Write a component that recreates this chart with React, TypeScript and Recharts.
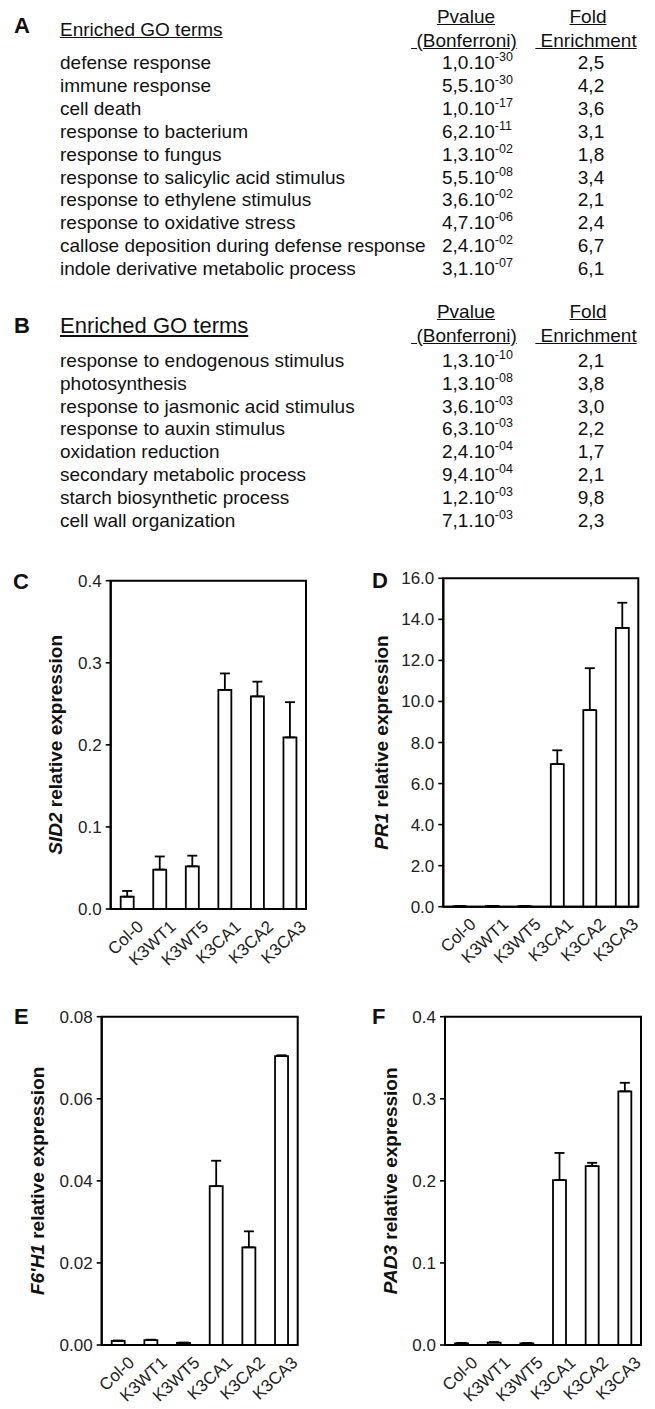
import React from "react";
import { BarChart, Bar, XAxis, YAxis, ErrorBar, ReferenceArea, Label } from "recharts";

const FONT = "'Liberation Sans', Arial, sans-serif";

// GO enrichment tables
const aTerms = [
  "defense response",
  "immune response",
  "cell death",
  "response to bacterium",
  "response to fungus",
  "response to salicylic acid stimulus",
  "response to ethylene stimulus",
  "response to oxidative stress",
  "callose deposition during defense response",
  "indole derivative metabolic process",
];
const aPvalues = ["1,0.10^-30", "5,5.10^-30", "1,0.10^-17", "6,2.10^-11", "1,3.10^-02", "5,5.10^-08", "3,6.10^-02", "4,7.10^-06", "2,4.10^-02", "3,1.10^-07"];
const aFolds = ["2,5", "4,2", "3,6", "3,1", "1,8", "3,4", "2,1", "2,4", "6,7", "6,1"];

const bTerms = [
  "response to endogenous stimulus",
  "photosynthesis",
  "response to jasmonic acid stimulus",
  "response to auxin stimulus",
  "oxidation reduction",
  "secondary metabolic process",
  "starch biosynthetic process",
  "cell wall organization",
];
const bPvalues = ["1,3.10^-10", "1,3.10^-08", "3,6.10^-03", "6,3.10^-03", "2,4.10^-04", "9,4.10^-04", "1,2.10^-03", "7,1.10^-03"];
const bFolds = ["2,1", "3,8", "3,0", "2,2", "1,7", "2,1", "9,8", "2,3"];

// qPCR bar charts
const lines = ["Col-0", "K3WT1", "K3WT5", "K3CA1", "K3CA2", "K3CA3"];

const sid2Mean = [0.015, 0.048, 0.052, 0.267, 0.259, 0.209];
const sid2Err = [0.007, 0.016, 0.013, 0.02, 0.018, 0.043];
const sid2Ticks = [0, 0.1, 0.2, 0.3, 0.4];

const pr1Mean = [0.02, 0.03, 0.02, 6.95, 9.58, 13.58];
const pr1Err = [0.01, 0.01, 0.01, 0.67, 2.04, 1.23];
const pr1Ticks = [0, 2, 4, 6, 8, 10, 12, 14, 16];

const f6h1Mean = [0.001, 0.0012, 0.0005, 0.0387, 0.0238, 0.0704];
const f6h1Err = [0.0001, 0.0001, 0.0001, 0.0062, 0.0039, 0.0002];
const f6h1Ticks = [0, 0.02, 0.04, 0.06, 0.08];

const pad3Mean = [0.002, 0.003, 0.002, 0.201, 0.218, 0.309];
const pad3Err = [0.0005, 0.0005, 0.0005, 0.033, 0.004, 0.0105];
const pad3Ticks = [0, 0.1, 0.2, 0.3, 0.4];

const Txt = ({ x, cy, size = 19, bold = false, underline = false, center = false, children }: any) => (
  <div
    style={{
      position: "absolute",
      left: center ? x - 80 : x,
      width: center ? 160 : undefined,
      textAlign: center ? "center" : "left",
      top: cy - size * 0.63,
      fontSize: size,
      lineHeight: `${size * 1.15}px`,
      fontWeight: bold ? "bold" : "normal",
      textDecoration: underline ? "underline" : "none",
      whiteSpace: "pre",
      color: "#111",
    }}
  >
    {children}
  </div>
);

const Pval = ({ value }: { value: string }) => {
  const [m, e] = value.split("^");
  return (
    <>
      {m}
      <span style={{ fontSize: 12.5, position: "relative", top: -8 }}>{e}</span>
    </>
  );
};

const GoTable = ({ letter, terms, pvalues, folds, letterY, titleY, titleSize, headY, rowY }: any) => (
  <>
    <Txt x={14} cy={letterY} size={22} bold>
      {letter}
    </Txt>
    <Txt x={60} cy={titleY} size={titleSize} underline>
      Enriched GO terms
    </Txt>
    <Txt x={466} cy={headY} underline center>
      Pvalue
    </Txt>
    <Txt x={464} cy={headY + 23.4} underline center>
      {"\u00a0(Bonferroni)"}
    </Txt>
    <Txt x={588} cy={headY} underline center>
      Fold
    </Txt>
    <Txt x={586} cy={headY + 23.4} underline center>
      {"\u00a0Enrichment"}
    </Txt>
    {terms.map((t: string, i: number) => (
      <React.Fragment key={t}>
        <Txt x={60} cy={rowY + i * 22.9}>
          {t}
        </Txt>
        <Txt x={442} cy={rowY + i * 22.9}>
          <Pval value={pvalues[i]} />
        </Txt>
        <Txt x={591} cy={rowY + i * 22.9} center>
          {folds[i]}
        </Txt>
      </React.Fragment>
    ))}
  </>
);

const AngledTick = (props: any) => {
  const { x, y, payload } = props;
  return (
    <g transform={`translate(${x + 9},${y + 10}) rotate(-43)`}>
      <text textAnchor="end" dy="0.72em" fontSize={17} fill="#222" fontFamily={FONT}>
        {payload.value}
      </text>
    </g>
  );
};

const ExprChart = ({ gene, mean, err, ticks, decimals, box, plot, labelX, letter, letterX, letterY }: any) => {
  const data = lines.map((line, i) => ({ line, mean: mean[i], err: [0, err[i]] }));
  const max = ticks[ticks.length - 1];
  return (
    <>
      <div style={{ position: "absolute", left: box.left, top: box.top }}>
        <BarChart
          width={box.width}
          height={box.height}
          data={data}
          margin={{ top: plot.top - box.top, right: box.left + box.width - plot.right, left: 0, bottom: 0 }}
        >
          <XAxis
            dataKey="line"
            interval={0}
            height={box.top + box.height - plot.bottom}
            tick={<AngledTick />}
            tickLine={false}
            tickSize={0}
            tickMargin={0}
            axisLine={{ stroke: "#000", strokeWidth: 2 }}
          />
          <YAxis
            type="number"
            domain={[0, max]}
            ticks={ticks}
            interval={0}
            width={plot.left - box.left}
            tickFormatter={(v: number) => v.toFixed(decimals)}
            tick={{ fontSize: 17, fill: "#222", fontFamily: FONT }}
            tickSize={5}
            tickMargin={4}
            tickLine={{ stroke: "#000", strokeWidth: 1.6 }}
            axisLine={{ stroke: "#000", strokeWidth: 2 }}
          >
            <Label
              content={(p: any) => {
                const vb = p.viewBox;
                const cx = labelX - box.left;
                const cy = vb.y + vb.height / 2;
                return (
                  <text
                    x={cx}
                    y={cy}
                    transform={`rotate(-90, ${cx}, ${cy})`}
                    textAnchor="middle"
                    fontSize={19}
                    fontWeight="bold"
                    fill="#111"
                    fontFamily={FONT}
                  >
                    <tspan fontStyle="italic">{gene}</tspan>
                    <tspan> relative expression</tspan>
                  </text>
                );
              }}
            />
          </YAxis>
          <ReferenceArea y1={0} y2={max} fill="none" stroke="#000" strokeWidth={2} ifOverflow="visible" />
          <Bar dataKey="mean" fill="#fff" stroke="#000" strokeWidth={1.8} barSize={13} isAnimationActive={false}>
            <ErrorBar dataKey="err" direction="y" width={5} stroke="#000" strokeWidth={1.8} />
          </Bar>
        </BarChart>
      </div>
      <Txt x={letterX} cy={letterY} size={22} bold>
        {letter}
      </Txt>
    </>
  );
};

export default function App() {
  return (
    <div
      style={{
        position: "absolute",
        left: 0,
        top: 0,
        width: 655,
        height: 1409,
        background: "#fff",
        overflow: "hidden",
        fontFamily: FONT,
      }}
    >
      <GoTable letter="A" terms={aTerms} pvalues={aPvalues} folds={aFolds} letterY={27} titleY={30.7} titleSize={19} headY={18.3} rowY={64} />
      <GoTable letter="B" terms={bTerms} pvalues={bPvalues} folds={bFolds} letterY={327} titleY={326.7} titleSize={22} headY={313.3} rowY={361.7} />

      <ExprChart
        gene="SID2"
        mean={sid2Mean}
        err={sid2Err}
        ticks={sid2Ticks}
        decimals={1}
        box={{ left: 0, top: 560, width: 320, height: 420 }}
        plot={{ left: 110.7, top: 580.7, right: 306, bottom: 909 }}
        labelX={62}
        letter="C"
        letterX={13}
        letterY={583}
      />
      <ExprChart
        gene="PR1"
        mean={pr1Mean}
        err={pr1Err}
        ticks={pr1Ticks}
        decimals={1}
        box={{ left: 325, top: 560, width: 330, height: 420 }}
        plot={{ left: 443.3, top: 578.3, right: 638.3, bottom: 906.7 }}
        labelX={388}
        letter="D"
        letterX={372}
        letterY={582}
      />
      <ExprChart
        gene="F6'H1"
        mean={f6h1Mean}
        err={f6h1Err}
        ticks={f6h1Ticks}
        decimals={2}
        box={{ left: 0, top: 995, width: 320, height: 414 }}
        plot={{ left: 101.7, top: 1016.7, right: 297.7, bottom: 1345 }}
        labelX={44}
        letter="E"
        letterX={14}
        letterY={1018}
      />
      <ExprChart
        gene="PAD3"
        mean={pad3Mean}
        err={pad3Err}
        ticks={pad3Ticks}
        decimals={1}
        box={{ left: 325, top: 995, width: 330, height: 414 }}
        plot={{ left: 445, top: 1016.7, right: 641, bottom: 1345 }}
        labelX={397}
        letter="F"
        letterX={372}
        letterY={1018}
      />
    </div>
  );
}
